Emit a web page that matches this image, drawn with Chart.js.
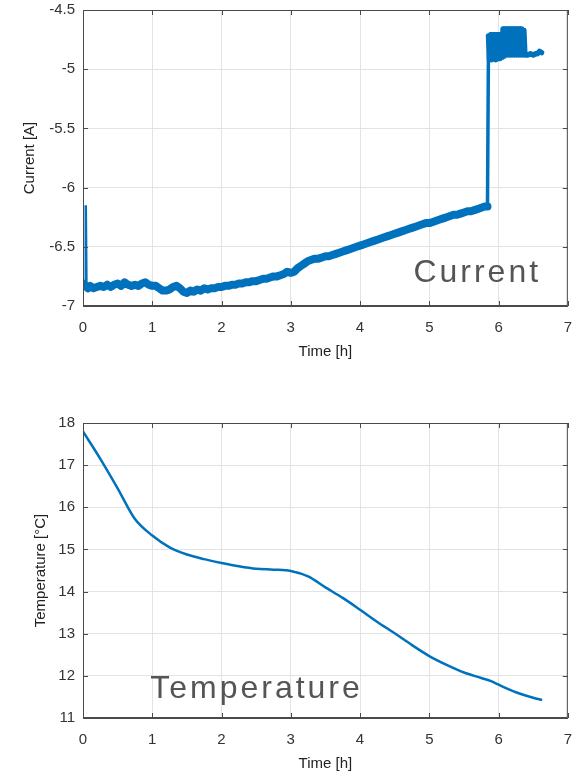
<!DOCTYPE html>
<html>
<head>
<meta charset="utf-8">
<script src="https://cdn.jsdelivr.net/npm/chart.js@4"></script>
<style>
  body { margin: 0; background: #fff; overflow: hidden; }
  .box { position: absolute; left: 0; width: 585px; }
  #topBox { top: -7px; height: 377px; }
  #bottomBox { top: 390px; height: 383px; }
</style>
</head>
<body>
<div class="box" id="topBox"><canvas id="currentChart"></canvas></div>
<div class="box" id="bottomBox"><canvas id="tempChart"></canvas></div>
<script>
// current trace (hours, amps)
const currentTime = [
  0, 0.02, 0.05, 0.07, 0.1, 0.15, 0.2, 0.25, 0.3, 0.35, 0.4, 0.45, 0.5, 0.55, 0.6, 0.65,
  0.7, 0.75, 0.8, 0.85, 0.9, 0.95, 1.0, 1.05, 1.1, 1.15, 1.2, 1.25, 1.3, 1.35, 1.4, 1.45, 1.5,
  1.55, 1.6, 1.65, 1.7, 1.75, 1.8, 1.85, 1.9, 1.95, 2.0, 2.05, 2.1, 2.15, 2.2, 2.25, 2.3, 2.35,
  2.4, 2.45, 2.5, 2.55, 2.6, 2.65, 2.7, 2.75, 2.8, 2.85, 2.9, 2.95, 3.0, 3.05, 3.1, 3.15, 3.2,
  3.25, 3.3, 3.35, 3.4, 3.45, 3.5, 3.55, 3.6, 3.65, 3.7, 3.75, 3.8, 3.85, 3.9, 3.95, 4.0, 4.05,
  4.1, 4.15, 4.2, 4.25, 4.3, 4.35, 4.4, 4.45, 4.5, 4.55, 4.6, 4.65, 4.7, 4.75, 4.8, 4.85, 4.9,
  4.95, 5.0, 5.05, 5.1, 5.15, 5.2, 5.25, 5.3, 5.35, 5.4, 5.45, 5.5, 5.55, 5.6, 5.65, 5.7, 5.75,
  5.8, 5.84
];
const currentAmps = [
  -6.81, -6.82, -6.84, -6.85, -6.83, -6.85, -6.84, -6.83, -6.84, -6.82, -6.84, -6.82, -6.81, -6.83, -6.80, -6.82,
  -6.83, -6.82, -6.83, -6.81, -6.80, -6.82, -6.83, -6.83, -6.85, -6.87, -6.87, -6.86, -6.84, -6.83, -6.85, -6.88, -6.89,
  -6.87, -6.88, -6.86, -6.87, -6.85, -6.86, -6.85, -6.85, -6.84, -6.84, -6.83, -6.83, -6.82, -6.82, -6.81, -6.81, -6.80,
  -6.80, -6.79, -6.79, -6.78, -6.77, -6.77, -6.76, -6.75, -6.75, -6.74, -6.73, -6.71, -6.72, -6.71, -6.68, -6.66, -6.64,
  -6.62, -6.61, -6.60, -6.60, -6.59, -6.58, -6.58, -6.57, -6.56, -6.55, -6.54, -6.53, -6.52, -6.51, -6.50, -6.49, -6.48,
  -6.47, -6.46, -6.45, -6.44, -6.43, -6.42, -6.41, -6.40, -6.39, -6.38, -6.37, -6.36, -6.35, -6.34, -6.33, -6.32, -6.31,
  -6.30, -6.30, -6.29, -6.28, -6.27, -6.26, -6.25, -6.24, -6.23, -6.23, -6.22, -6.21, -6.20, -6.20, -6.19, -6.18, -6.17,
  -6.16, -6.16
];
// thin excursions: start-up spike and the step at ~5.85 h
const stepTime = [0.03, 0.04, 0.05, 5.84, 5.855];
const stepAmps = [-6.84, -6.15, -6.84, -6.15, -4.72];
// oscillating part after the step
const osciTime = [5.855, 5.87, 5.885, 5.90, 5.915, 5.93, 5.945, 5.96, 5.975, 5.99, 6.005, 6.02, 6.035, 6.05,
  6.065, 6.08, 6.095, 6.11, 6.125, 6.14, 6.155, 6.17, 6.185, 6.20, 6.215, 6.23, 6.245, 6.26, 6.275, 6.29,
  6.305, 6.32, 6.335, 6.35, 6.365, 6.38, 6.42, 6.46, 6.50, 6.53, 6.56, 6.59, 6.62];
const osciAmps = [-4.72, -4.92, -4.71, -4.92, -4.71, -4.91, -4.71, -4.92, -4.71, -4.91, -4.71, -4.91, -4.71, -4.90,
  -4.66, -4.89, -4.66, -4.88, -4.66, -4.88, -4.66, -4.88, -4.66, -4.88, -4.66, -4.88, -4.66, -4.88, -4.66, -4.88,
  -4.66, -4.88, -4.66, -4.88, -4.67, -4.88, -4.88, -4.87, -4.88, -4.87, -4.87, -4.85, -4.86];

// temperature trace
const tempTime = [0, 0.25, 0.5, 0.75, 1.0, 1.25, 1.5, 1.75, 2.0, 2.25, 2.5, 2.75, 3.0, 3.25, 3.5,
  3.75, 4.0, 4.25, 4.5, 4.75, 5.0, 5.25, 5.5, 5.75, 5.9, 6.0, 6.25, 6.5, 6.63];
const tempC = [17.80, 17.15, 16.45, 15.72, 15.33, 15.05, 14.88, 14.77, 14.68, 14.60, 14.54, 14.52, 14.49, 14.36, 14.10,
  13.85, 13.57, 13.28, 13.01, 12.73, 12.47, 12.26, 12.08, 11.95, 11.87, 11.79, 11.61, 11.48, 11.43];

const xTicks = [0, 1, 2, 3, 4, 5, 6, 7];
const currentTicks = [-7, -6.5, -6, -5.5, -5, -4.5];
const tempTicks = [11, 12, 13, 14, 15, 16, 17, 18];

const BLUE = '#0072BD';
const AXIS = '#4a4a4a';
const FONT = "'Liberation Sans', Arial, sans-serif";

function pairs(xs, ys) {
  return xs.map((x, i) => ({ x: x, y: ys[i] }));
}

// box around the plot with small inward tick marks, like matlab
const boxPlugin = {
  id: 'box',
  afterDraw(chart) {
    const { ctx, chartArea: a, scales } = chart;
    ctx.save();
    ctx.strokeStyle = AXIS;
    ctx.lineWidth = 1;
    ctx.strokeRect(a.left + 0.5, a.top + 0.5, a.right - a.left - 1, a.bottom - a.top - 1);
    ctx.beginPath();
    scales.x.ticks.forEach(t => {
      const px = Math.round(scales.x.getPixelForValue(t.value)) + 0.5;
      ctx.moveTo(px, a.bottom); ctx.lineTo(px, a.bottom - 5);
      ctx.moveTo(px, a.top); ctx.lineTo(px, a.top + 5);
    });
    scales.y.ticks.forEach(t => {
      const py = Math.round(scales.y.getPixelForValue(t.value)) + 0.5;
      ctx.moveTo(a.left, py); ctx.lineTo(a.left + 5, py);
      ctx.moveTo(a.right, py); ctx.lineTo(a.right - 5, py);
    });
    ctx.stroke();
    ctx.restore();
  }
};

// big grey label inside the axes
function labelPlugin(text, xVal, yVal) {
  return {
    id: 'label',
    afterDatasetsDraw(chart) {
      const ctx = chart.ctx;
      ctx.save();
      ctx.font = '32px ' + FONT;
      ctx.fillStyle = '#555555';
      ctx.letterSpacing = '3px';
      ctx.textBaseline = 'alphabetic';
      ctx.fillText(text, chart.scales.x.getPixelForValue(xVal), chart.scales.y.getPixelForValue(yVal));
      ctx.restore();
    }
  };
}

function axisOptions(yMin, yMax, yTicks, yTitle, xHeight, xTitlePad, yTitlePad) {
  return {
    x: {
      type: 'linear', min: 0, max: 7,
      afterBuildTicks: s => { s.ticks = xTicks.map(v => ({ value: v })); },
      afterFit: s => { s.height = xHeight; },
      grid: { color: '#e3e3e3', drawTicks: false },
      border: { color: AXIS },
      ticks: { color: '#333', font: { family: FONT, size: 15 }, padding: 13, callback: v => String(v) },
      title: { display: true, text: 'Time [h]', color: '#222', font: { family: FONT, size: 15 }, padding: { top: 0, bottom: xTitlePad } }
    },
    y: {
      min: yMin, max: yMax,
      afterBuildTicks: s => { s.ticks = yTicks.map(v => ({ value: v })); },
      afterFit: s => { s.width = 83; },
      grid: { color: '#e3e3e3', drawTicks: false },
      border: { color: AXIS },
      ticks: { color: '#333', font: { family: FONT, size: 15 }, padding: 8, callback: v => String(v) },
      title: { display: true, text: yTitle, color: '#222', font: { family: FONT, size: 15 }, padding: { top: yTitlePad, bottom: 0 } }
    }
  };
}

new Chart(document.getElementById('currentChart'), {
  type: 'line',
  data: {
    datasets: [
      {
        data: pairs(currentTime, currentAmps),
        borderColor: BLUE, borderWidth: 8, pointRadius: 0, tension: 0, borderJoinStyle: 'round', borderCapStyle: 'round'
      },
      {
        data: pairs(stepTime.slice(0, 3), stepAmps.slice(0, 3)),
        borderColor: BLUE, borderWidth: 2.5, pointRadius: 0, tension: 0
      },
      {
        data: pairs(stepTime.slice(3), stepAmps.slice(3)),
        borderColor: BLUE, borderWidth: 3.5, pointRadius: 0, tension: 0
      },
      {
        data: pairs(osciTime, osciAmps),
        borderColor: BLUE, borderWidth: 5.5, pointRadius: 0, tension: 0, borderJoinStyle: 'round', borderCapStyle: 'round'
      }
    ]
  },
  options: {
    responsive: true,
    maintainAspectRatio: false,
    animation: false,
    layout: { padding: { top: 10, right: 10, left: 0, bottom: 0 } },
    plugins: { legend: { display: false }, tooltip: { enabled: false } },
    scales: axisOptions(-7, -4.5, currentTicks, 'Current [A]', 64, 9, 21)
  },
  plugins: [boxPlugin, labelPlugin('Current', 4.77, -6.797)]
});

new Chart(document.getElementById('tempChart'), {
  type: 'line',
  data: {
    datasets: [{
      data: pairs(tempTime, tempC),
      borderColor: BLUE, borderWidth: 2.5, pointRadius: 0, cubicInterpolationMode: 'monotone'
    }]
  },
  options: {
    responsive: true,
    maintainAspectRatio: false,
    animation: false,
    layout: { padding: { top: 33, right: 10, left: 0, bottom: 0 } },
    plugins: { legend: { display: false }, tooltip: { enabled: false } },
    scales: axisOptions(11, 18, tempTicks, 'Temperature [°C]', 55, 0, 32)
  },
  plugins: [boxPlugin, labelPlugin('Temperature', 0.97, 11.47)]
});
</script>
</body>
</html>
